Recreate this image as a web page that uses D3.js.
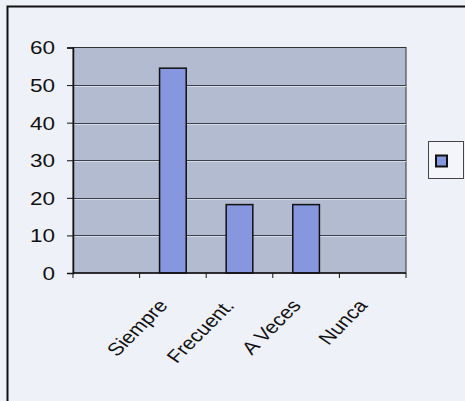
<!DOCTYPE html>
<html>
<head>
<meta charset="utf-8">
<script src="https://cdn.jsdelivr.net/npm/d3@7"></script>
<style>
html,body{margin:0;padding:0;background:#eff1f9;}
svg{display:block;}
text{font-family:"Liberation Sans",Arial,sans-serif;fill:#111;}
</style>
</head>
<body>
<svg id="chart" width="465" height="401"></svg>
<script>
const categories = ["", "Siempre", "Frecuent.", "A Veces", "Nunca"];
const values = [null, 54.5, 18.2, 18.2, 0];
const yTicks = [0, 10, 20, 30, 40, 50, 60];

const W = 465, H = 401;
const plot = {left: 73, right: 406, top: 47.5, bottom: 273};
const stretch = 1.25;

const svg = d3.select("#chart");
svg.append("rect").attr("x", 0).attr("y", 0).attr("width", W).attr("height", H).attr("fill", "#eff1f9");
// outer frame (right/bottom off-image)
svg.append("rect").attr("x", 7.5).attr("y", 6.5).attr("width", 470).attr("height", 410)
  .attr("fill", "none").attr("stroke", "#111").attr("stroke-width", 2);

const x = d3.scaleBand().domain(categories.map((c, i) => i)).range([plot.left, plot.right]).padding(0);
const y = d3.scaleLinear().domain([0, 60]).range([plot.bottom, plot.top]);

// plot area
svg.append("rect").attr("x", plot.left).attr("y", plot.top)
  .attr("width", plot.right - plot.left).attr("height", plot.bottom - plot.top)
  .attr("fill", "#b2bbcf").attr("stroke", "#333").attr("stroke-width", 1);

// gridlines
const inner = yTicks.filter(t => t > 0 && t < 60);
svg.append("g").selectAll("line").data(inner).join("line")
  .attr("x1", plot.left).attr("x2", plot.right)
  .attr("y1", d => Math.round(y(d)) + 0.5).attr("y2", d => Math.round(y(d)) + 0.5)
  .attr("stroke", "#3a3f4a").attr("stroke-width", 1);
svg.append("g").selectAll("line").data(inner).join("line")
  .attr("x1", plot.left).attr("x2", plot.right)
  .attr("y1", d => Math.round(y(d)) + 1.5).attr("y2", d => Math.round(y(d)) + 1.5)
  .attr("stroke", "#d6dcea").attr("stroke-width", 1);

// bars
const bw = x.step() * 0.4;
svg.append("g").selectAll("rect")
  .data(values.map((v, i) => ({v, i})).filter(d => d.v !== null && d.v > 0))
  .join("rect")
  .attr("x", d => x(d.i) + x.bandwidth() / 2 - bw / 2)
  .attr("y", d => y(d.v))
  .attr("width", bw)
  .attr("height", d => y(0) - y(d.v))
  .attr("fill", "#8797df")
  .attr("stroke", "#111").attr("stroke-width", 1.5);

// y axis
const yAxis = d3.axisLeft(y).tickValues(yTicks).tickSize(6).tickFormat(d3.format("d"));
const gy = svg.append("g").attr("transform", `translate(${plot.left},0)`).call(yAxis);
gy.select(".domain").attr("stroke", "#111").attr("stroke-width", 1.5);
gy.selectAll(".tick line").attr("stroke", "#111");
gy.selectAll(".tick text").remove();
gy.selectAll(".tick").append("text")
  .attr("transform", `translate(-18,0) scale(${stretch},1)`)
  .attr("text-anchor", "end").attr("dy", "0.36em")
  .attr("font-size", 18).text(d => d);

// x axis (tick marks at category boundaries)
const boundaries = d3.range(categories.length + 1).map(i => plot.left + i * x.step());
const gx = svg.append("g");
gx.append("line").attr("x1", plot.left).attr("x2", plot.right)
  .attr("y1", y(0)).attr("y2", y(0)).attr("stroke", "#111").attr("stroke-width", 1.5);
gx.selectAll("line.tk").data(boundaries).join("line").attr("class", "tk")
  .attr("x1", d => d).attr("x2", d => d)
  .attr("y1", y(0)).attr("y2", y(0) + 5).attr("stroke", "#111");

gx.selectAll("text").data(categories.map((c, i) => ({c, i})).filter(d => d.c !== "")).join("text")
  .attr("transform", d => `translate(${x(d.i) + x.bandwidth() / 2 - 10},${y(0) + 29}) scale(1.2,1) rotate(-50)`)
  .attr("text-anchor", "end").attr("dy", "0.35em")
  .attr("font-size", 18).text(d => d.c);

// legend
svg.append("rect").attr("x", 428.5).attr("y", 141.5).attr("width", 35).attr("height", 37)
  .attr("fill", "#f3f5fb").attr("stroke", "#444").attr("stroke-width", 1);
svg.append("rect").attr("x", 436).attr("y", 155.5).attr("width", 11).attr("height", 11)
  .attr("fill", "#8797df").attr("stroke", "#111").attr("stroke-width", 2);
</script>
</body>
</html>
